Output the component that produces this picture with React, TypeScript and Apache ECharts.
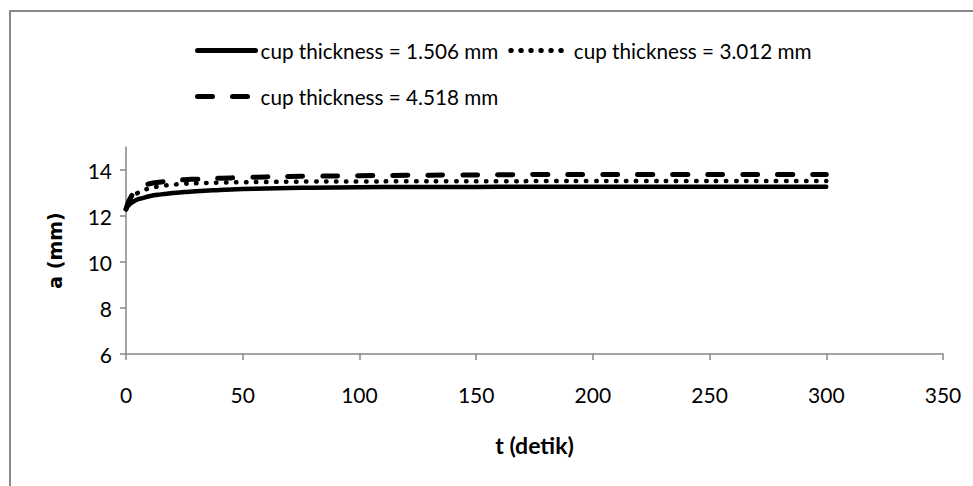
import React, { useEffect, useRef } from "react";
import * as echarts from "echarts";

const tValues = [0, 1, 2, 3, 5, 7, 10, 15, 20, 25, 30, 40, 50, 60, 70, 80, 100, 120, 140, 160, 180, 200, 220, 240, 260, 280, 300];
const thin = [12.3, 12.45, 12.55, 12.62, 12.72, 12.78, 12.86, 12.94, 13.0, 13.04, 13.08, 13.13, 13.17, 13.2, 13.22, 13.23, 13.25, 13.26, 13.26, 13.27, 13.27, 13.27, 13.27, 13.27, 13.27, 13.27, 13.27];
const medium = [12.3, 12.55, 12.72, 12.85, 13.0, 13.1, 13.2, 13.3, 13.36, 13.4, 13.42, 13.45, 13.47, 13.48, 13.49, 13.5, 13.5, 13.51, 13.51, 13.51, 13.52, 13.52, 13.52, 13.52, 13.52, 13.52, 13.52];
const thick = [12.3, 12.6, 12.8, 12.95, 13.15, 13.28, 13.4, 13.48, 13.54, 13.58, 13.6, 13.64, 13.67, 13.7, 13.72, 13.73, 13.75, 13.77, 13.78, 13.79, 13.8, 13.8, 13.8, 13.8, 13.8, 13.8, 13.8];
const seriesNames = ["cup thickness = 1.506 mm", "cup thickness = 3.012 mm", "cup thickness = 4.518 mm"];
const yTicks = [6, 8, 10, 12, 14];

const FONT = "Lato, 'Open Sans', sans-serif";

export default function App() {
  const ref = useRef<HTMLDivElement>(null);
  useEffect(() => {
    if (!ref.current) return;
    const chart = echarts.init(ref.current, undefined, { renderer: "svg" });
    const pair = (arr: number[]) => tValues.map((t, i) => [t, arr[i]]);
    const legendText = { fontFamily: FONT, fontSize: 20.7, color: "#000" };
    const legendCommon = {
      padding: 0,
      itemWidth: 58,
      itemHeight: 14,
      itemGap: 10,
      textStyle: legendText,
      itemStyle: { opacity: 0 },
      lineStyle: { width: 5, cap: "round" },
    };
    chart.setOption({
      animation: false,
      backgroundColor: "#fff",
      graphic: [
        {
          type: "rect",
          shape: { x: 10, y: 11, width: 1000, height: 500 },
          style: { fill: "none", stroke: "#888", lineWidth: 2 },
          silent: true,
        },
      ],
      legend: [
        { ...legendCommon, data: [seriesNames[0], seriesNames[1]], left: 195, top: 40 },
        { ...legendCommon, data: [seriesNames[2]], left: 195, top: 86 },
      ],
      grid: { left: 126, right: 30, top: 147, bottom: 132 },
      xAxis: {
        type: "value",
        min: 0,
        max: 350,
        interval: 50,
        name: "t (detik)",
        nameLocation: "middle",
        nameGap: 79,
        nameTextStyle: { fontFamily: FONT, fontSize: 23, fontWeight: "bold", color: "#000" },
        axisLine: { lineStyle: { color: "#868686", width: 1.5 } },
        axisTick: { length: 6, lineStyle: { color: "#868686", width: 1.5 } },
        axisLabel: { fontFamily: FONT, fontSize: 21, color: "#000", margin: 30 },
        splitLine: { show: false },
      },
      yAxis: {
        type: "value",
        min: 6,
        max: 15,
        interval: 1,
        name: "a (mm)",
        nameLocation: "middle",
        nameGap: 62,
        nameTextStyle: { fontFamily: "DejaVu Sans", fontSize: 19, fontWeight: "bold", color: "#000" },
        axisLine: { show: true, lineStyle: { color: "#868686", width: 1.5 } },
        axisTick: { show: true, length: 6, customValues: yTicks, lineStyle: { color: "#868686", width: 1.5 } },
        axisLabel: { fontFamily: FONT, fontSize: 21, color: "#000", margin: 14, customValues: yTicks },
        splitLine: { show: false },
      },
      series: [
        {
          name: seriesNames[0],
          type: "line",
          data: pair(thin),
          symbol: "none",
          smooth: true,
          lineStyle: { color: "#000", width: 4.5, cap: "round" },
          itemStyle: { color: "#000" },
        },
        {
          name: seriesNames[1],
          type: "line",
          data: pair(medium),
          symbol: "none",
          smooth: true,
          lineStyle: { color: "#000", width: 4.5, type: [0.5, 9.5], cap: "round" },
          itemStyle: { color: "#000" },
        },
        {
          name: seriesNames[2],
          type: "line",
          data: pair(thick),
          symbol: "none",
          smooth: true,
          lineStyle: { color: "#000", width: 5, type: [15, 20], cap: "round" },
          itemStyle: { color: "#000" },
        },
      ],
    });
    return () => chart.dispose();
  }, []);
  return (
    <div
      ref={ref}
      style={{ position: "fixed", left: 0, top: 0, width: 973, height: 486, background: "#fff" }}
    />
  );
}
